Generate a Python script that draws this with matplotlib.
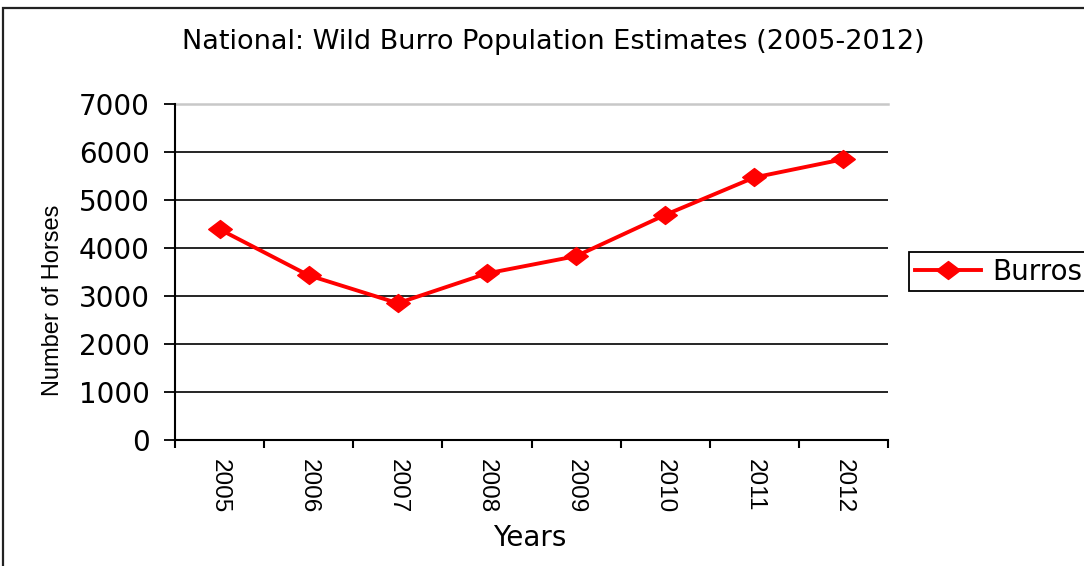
import matplotlib.pyplot as plt
from matplotlib.patches import Rectangle
from matplotlib.path import Path

# Wild burro population estimates by year
years = ['2005', '2006', '2007', '2008', '2009', '2010', '2011', '2012']
burros = [4390, 3430, 2850, 3470, 3830, 4690, 5470, 5850]
y_ticks = [0, 1000, 2000, 3000, 4000, 5000, 6000, 7000]

RED = '#ff0000'
ROT_FONT = 'Liberation Sans'

# flat diamond marker, wider than tall
diamond = Path([(-1, 0), (0, 0.76), (1, 0), (0, -0.76), (-1, 0)],
               [Path.MOVETO, Path.LINETO, Path.LINETO, Path.LINETO, Path.CLOSEPOLY])

fig = plt.figure(figsize=(10.84, 5.66), dpi=100)
ax = fig.add_axes([175 / 1084, 126 / 566, 713 / 1084, 336 / 566])

x = list(range(len(years)))
ax.plot(x, burros, color=RED, lw=2.8, marker=diamond, markersize=17,
        markerfacecolor=RED, markeredgecolor=RED, label='Burros', zorder=3)

ax.set_xlim(-0.5, len(years) - 0.5)
ax.set_ylim(0, 7000)

# horizontal gridlines, top one light gray
for v in y_ticks[1:-1]:
    ax.axhline(v, color='black', lw=1.2, zorder=1)
ax.axhline(7000, color='#c8c8c8', lw=1.8, zorder=1, clip_on=False)

for side in ['top', 'right']:
    ax.spines[side].set_visible(False)
ax.spines['left'].set_linewidth(1.5)
ax.spines['bottom'].set_linewidth(1.5)

ax.set_yticks(y_ticks)
ax.set_yticklabels([str(v) for v in y_ticks], fontsize=20)
ax.tick_params(axis='y', length=8, width=1.3, pad=10)

# category labels centred, tick marks at category edges
ax.set_xticks(x)
ax.set_xticklabels(years, rotation=-90, fontsize=17.5, family=ROT_FONT, va='top')
ax.set_xticks([i - 0.5 for i in range(len(years) + 1)], minor=True)
ax.tick_params(axis='x', which='major', length=0, pad=14)
ax.tick_params(axis='x', which='minor', length=6, width=1.5)

ax.set_xlabel('Years', fontsize=20)
ax.xaxis.set_label_coords((530 - 175) / 713, (440 - 538) / 336)
ax.xaxis.label.set_va('center')
ax.set_ylabel('Number of Horses', fontsize=17, family=ROT_FONT)
ax.yaxis.set_label_coords((53 - 175) / 713, (440 - 300) / 336)
ax.yaxis.label.set_va('center')

fig.text(553 / 1084, 1 - 42 / 566, 'National: Wild Burro Population Estimates (2005-2012)',
         ha='center', va='center', fontsize=19.5)

leg = fig.legend(loc='center left', bbox_to_anchor=(909 / 1084, 1 - 271.5 / 566),
                 fontsize=20, frameon=True, fancybox=False, framealpha=1,
                 edgecolor='black', handlelength=2.4, borderpad=0.2,
                 handletextpad=0.4, borderaxespad=0)
leg.get_frame().set_linewidth(1.3)

# outer chart border
fig.patches.append(Rectangle((3 / 1084, -0.1), 1.2, 1 - 8 / 566 + 0.1,
                             transform=fig.transFigure, fill=False,
                             edgecolor='#222222', lw=1.6))

fig.savefig('out.png', dpi=100)
